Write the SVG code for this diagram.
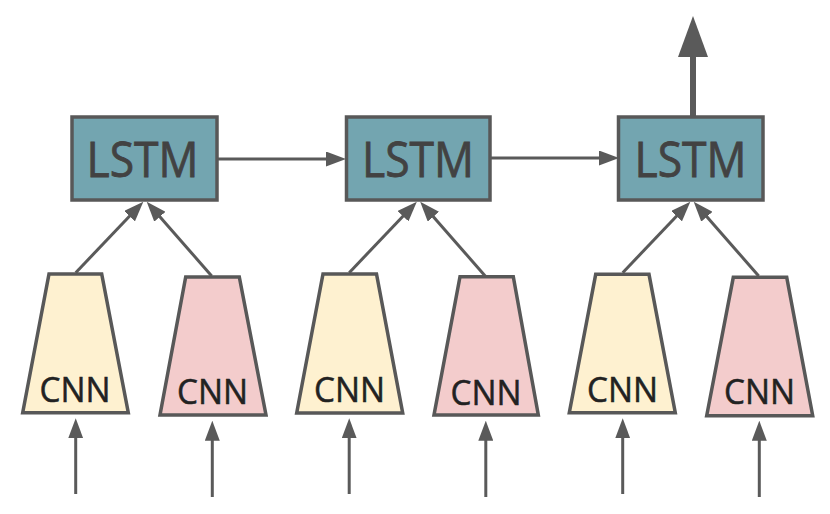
<svg xmlns="http://www.w3.org/2000/svg" width="830" height="514" viewBox="0 0 830 514">
<style>
.lstm{fill:#73a5b0;stroke:#585858;stroke-width:3.5}
.ltxt{font-family:"Open Sans","DejaVu Sans",sans-serif;font-size:49px;fill:#424242;stroke:#424242;stroke-width:0.8;text-anchor:middle}
.yel{fill:#fef1d0;stroke:#585858;stroke-width:3.5;stroke-linejoin:miter}
.pnk{fill:#f3cccc;stroke:#585858;stroke-width:3.5;stroke-linejoin:miter}
.ctxt{font-family:"Open Sans","DejaVu Sans",sans-serif;font-size:34px;fill:#222;stroke:#222;stroke-width:0.5;text-anchor:middle}
.ar{stroke:#5a5a5a;stroke-width:3;fill:none;marker-end:url(#ah)}
</style>
<defs>
<marker id="ah" viewBox="0 0 20 15" refX="12" refY="7.5" markerWidth="20" markerHeight="15" markerUnits="userSpaceOnUse" orient="auto">
<path d="M0,0 L20,7.5 L0,15 Z" fill="#5a5a5a"/>
</marker>
</defs>
<g id="connectors">
<line class="ar" x1="218" y1="159" x2="338" y2="159"/>
<line class="ar" x1="491" y1="158" x2="611" y2="158"/>
<line x1="693" y1="116" x2="693" y2="55" stroke="#5a5a5a" stroke-width="6"/>
<polygon points="678,57 693,16 708,57" fill="#5a5a5a"/>
<g id="c1">
<line class="ar" x1="75.7" y1="272.7" x2="137.8" y2="207.5"/>
<line class="ar" x1="211.7" y1="276" x2="152" y2="207.7"/>
<line class="ar" x1="75.7" y1="494" x2="75.7" y2="426.3"/>
<line class="ar" x1="212.3" y1="497" x2="212.3" y2="428.7"/>
</g>
<g id="c2" transform="translate(273.5,0)">
<line class="ar" x1="75.7" y1="272.7" x2="137.8" y2="207.5"/>
<line class="ar" x1="211.7" y1="276" x2="152" y2="207.7"/>
<line class="ar" x1="75.7" y1="494" x2="75.7" y2="426.3"/>
<line class="ar" x1="212.3" y1="497" x2="212.3" y2="428.7"/>
</g>
<g id="c3" transform="translate(547,0)">
<line class="ar" x1="75.7" y1="272.7" x2="137.8" y2="207.5"/>
<line class="ar" x1="211.7" y1="276" x2="152" y2="207.7"/>
<line class="ar" x1="75.7" y1="494" x2="75.7" y2="426.3"/>
<line class="ar" x1="212.3" y1="497" x2="212.3" y2="428.7"/>
</g>
</g>
<g id="lstm1">
<rect class="lstm" x="72" y="117" width="145" height="83"/>
<text class="ltxt" x="142.5" y="176.7" textLength="112" lengthAdjust="spacingAndGlyphs">LSTM</text>
</g>
<g id="lstm2">
<rect class="lstm" x="346.5" y="117" width="143.5" height="83"/>
<text class="ltxt" x="418" y="176.7" textLength="112" lengthAdjust="spacingAndGlyphs">LSTM</text>
</g>
<g id="lstm3">
<rect class="lstm" x="618.5" y="117" width="144.5" height="83"/>
<text class="ltxt" x="690.5" y="176.7" textLength="112" lengthAdjust="spacingAndGlyphs">LSTM</text>
</g>
<g id="cnn1a">
<polygon class="yel" points="49,274 101.7,274 128.3,412.7 22.7,412.7"/>
<text class="ctxt" x="75" y="401.7" textLength="71" lengthAdjust="spacingAndGlyphs">CNN</text>
</g>
<g id="cnn1b">
<polygon class="pnk" points="185.7,277 239.3,277 266,415 160,415"/>
<text class="ctxt" x="212.5" y="403.5" textLength="71" lengthAdjust="spacingAndGlyphs">CNN</text>
</g>
<g id="cnn2a">
<polygon class="yel" points="323,274 376.5,274 402.7,413 296.7,413"/>
<text class="ctxt" x="349.5" y="402" textLength="71" lengthAdjust="spacingAndGlyphs">CNN</text>
</g>
<g id="cnn2b">
<polygon class="pnk" points="460,276.7 513.3,276.7 538.3,415 434,415"/>
<text class="ctxt" x="486" y="404.5" textLength="71" lengthAdjust="spacingAndGlyphs">CNN</text>
</g>
<g id="cnn3a">
<polygon class="yel" points="595.7,274.3 649,274.3 675.3,412.7 569.3,412.7"/>
<text class="ctxt" x="622.5" y="402" textLength="71" lengthAdjust="spacingAndGlyphs">CNN</text>
</g>
<g id="cnn3b">
<polygon class="pnk" points="733.3,277.3 786.7,277.3 812.7,415.7 706.7,415.7"/>
<text class="ctxt" x="759.5" y="403.5" textLength="71" lengthAdjust="spacingAndGlyphs">CNN</text>
</g>
</svg>
